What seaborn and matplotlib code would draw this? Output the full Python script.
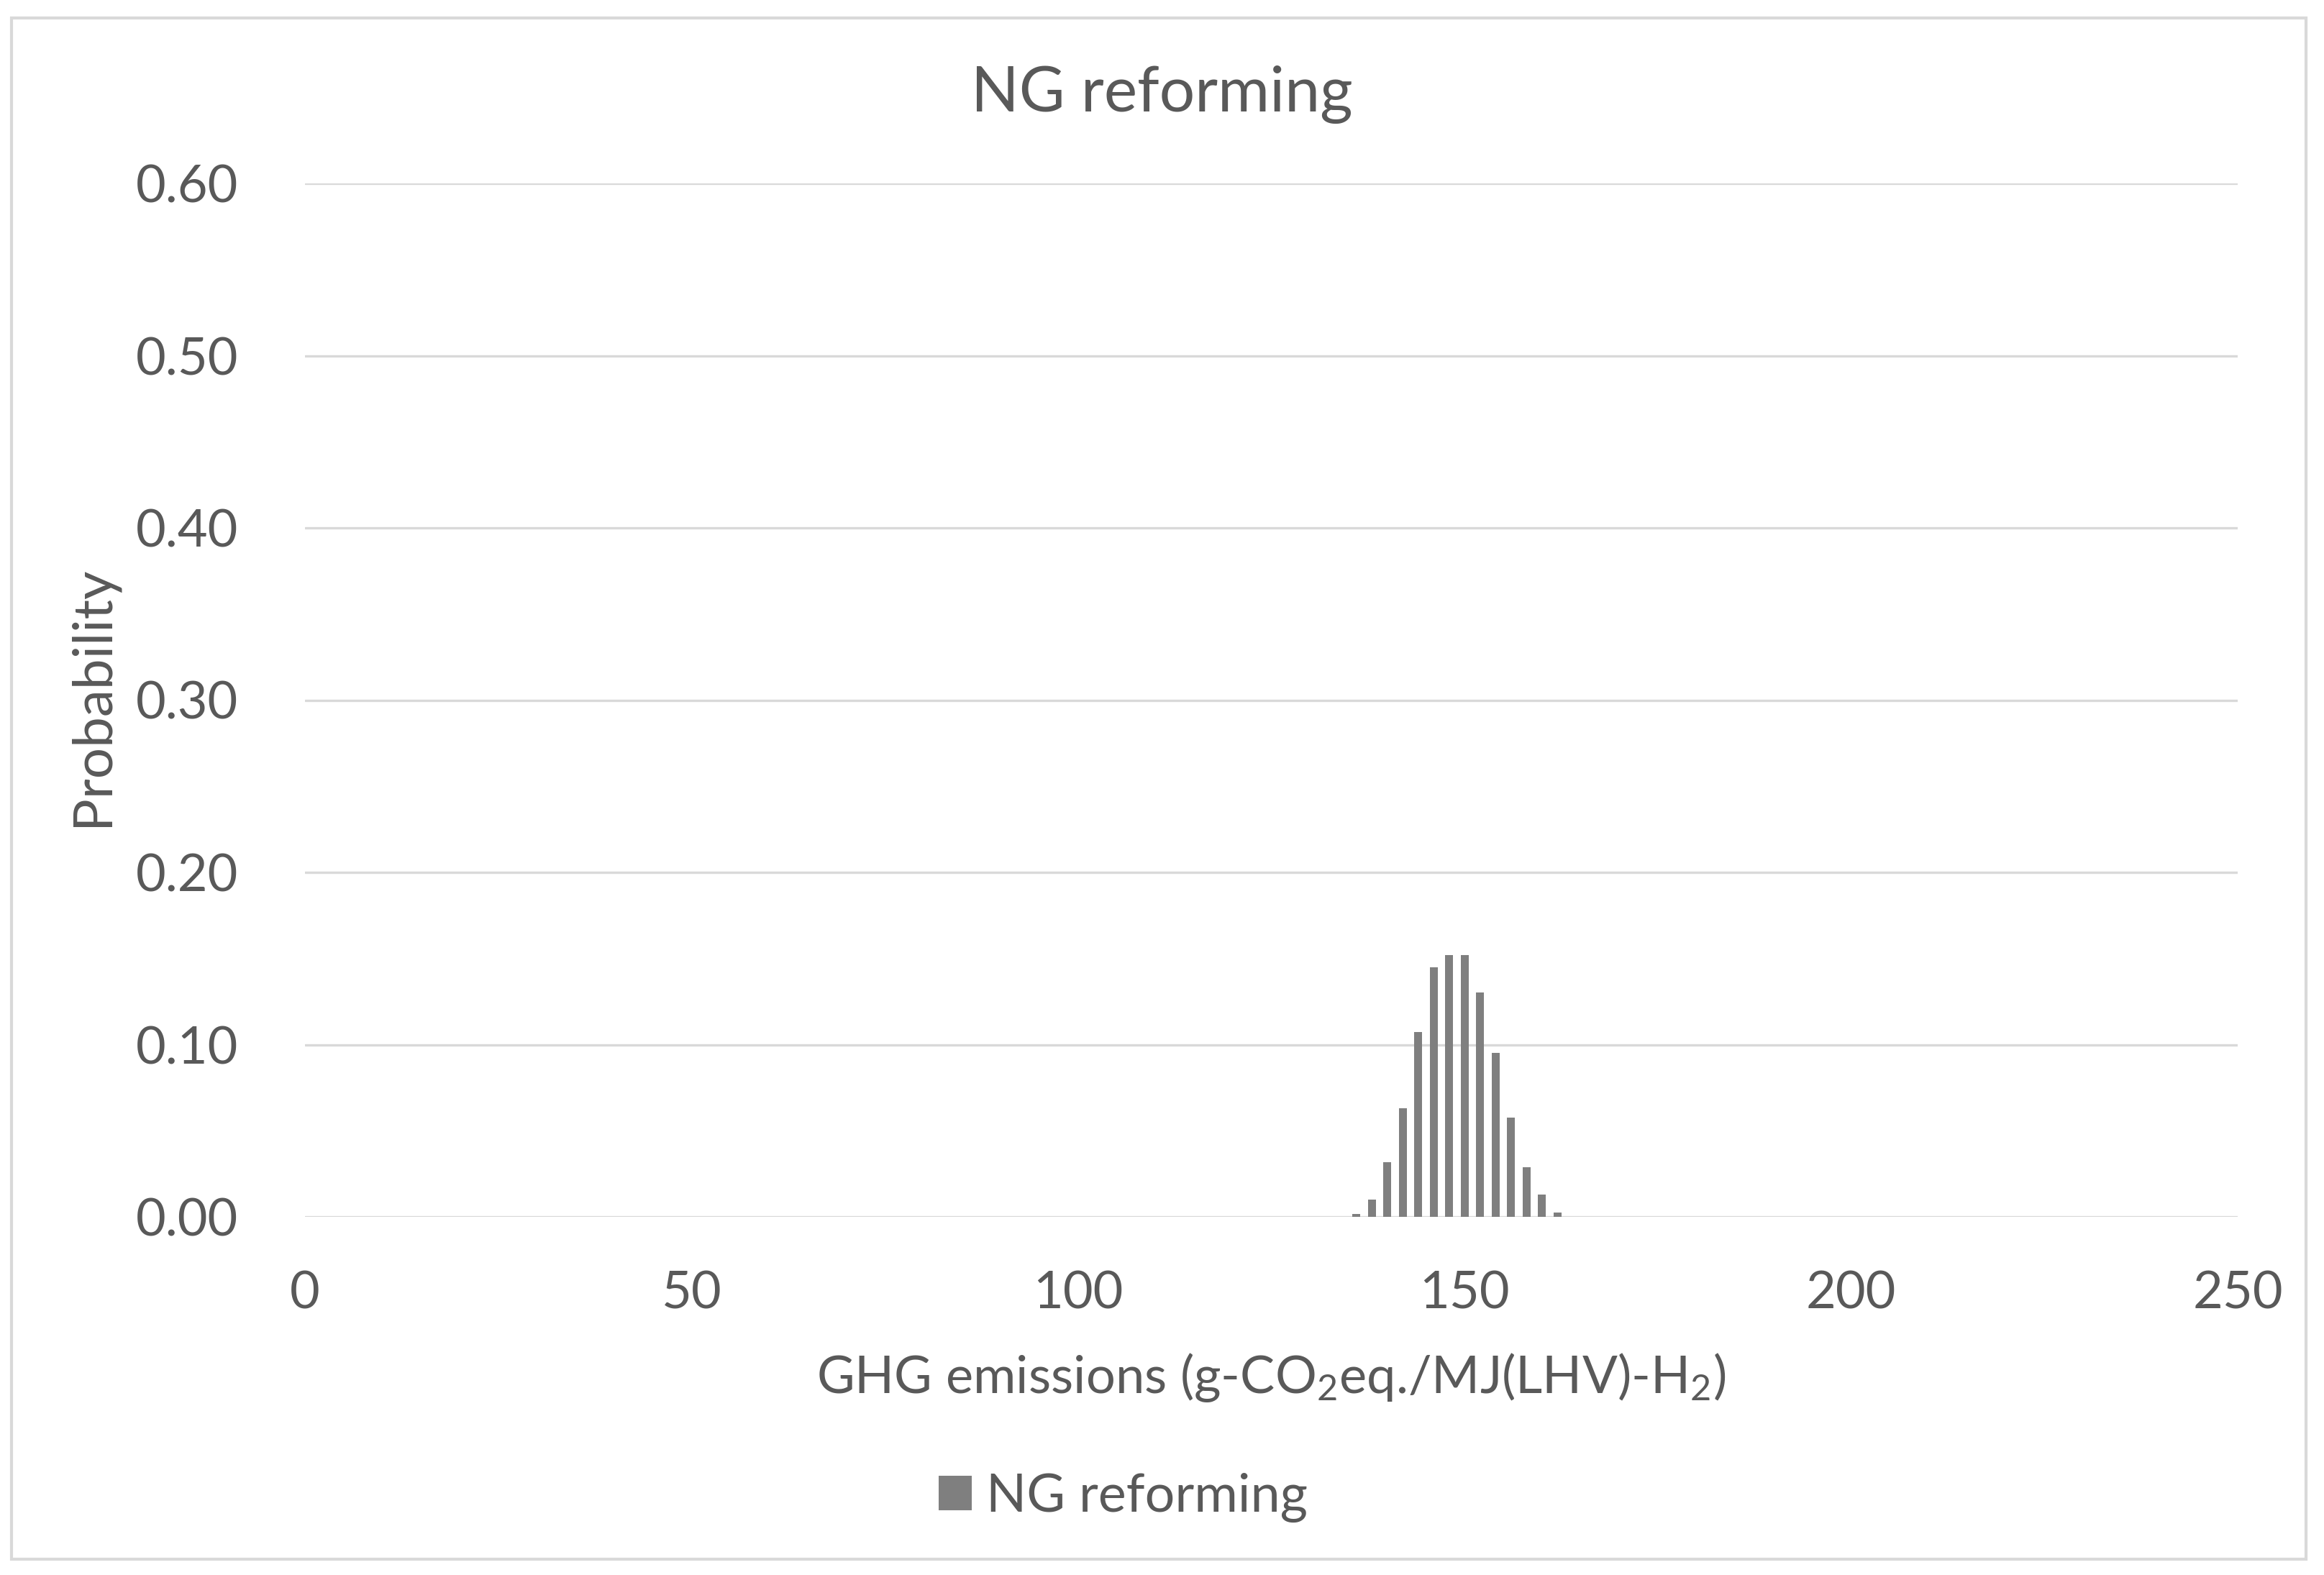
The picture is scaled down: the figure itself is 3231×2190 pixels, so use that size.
import matplotlib
matplotlib.use("Agg")
import matplotlib.pyplot as plt
import matplotlib.ticker as mticker
from matplotlib.patches import Rectangle
import seaborn as sns
import pandas as pd

# Data
emissions = [136, 138, 140, 142, 144, 146, 148, 150, 152, 154, 156, 158, 160, 162]
probability = [0.0017, 0.0100, 0.0316, 0.0632, 0.1075, 0.1447, 0.1518,
               0.1518, 0.1302, 0.0950, 0.0578, 0.0288, 0.0128, 0.0026]
series_name = "NG reforming"
y_ticks = [0.0, 0.1, 0.2, 0.3, 0.4, 0.5, 0.6]
x_ticks = [0, 50, 100, 150, 200, 250]

df = pd.DataFrame({"x": emissions, "p": probability})

sns.set_theme(style="white")
plt.rcParams["font.family"] = ["Lato", "DejaVu Sans"]
plt.rcParams["mathtext.fontset"] = "custom"
plt.rcParams["mathtext.rm"] = "Lato"
plt.rcParams["mathtext.it"] = "Lato"
plt.rcParams["mathtext.bf"] = "Lato"

TXT = "#595959"
GRID = "#D9D9D9"
BAR = "#7F7F7F"

W, H = 3231, 2190
fig = plt.figure(figsize=(W / 100, H / 100), dpi=100)
ax = fig.add_axes([424 / W, 1 - 1692 / H, (3111 - 424) / W, (1692 - 255) / H])

sns.barplot(data=df, x="x", y="p", native_scale=True, width=0.5,
            color=BAR, saturation=1, linewidth=0, ax=ax, label=series_name)

ax.set_xlim(0, 250)
ax.set_ylim(0, 0.6)
ax.set_xticks(x_ticks)
ax.set_yticks(y_ticks)
ax.yaxis.set_major_formatter(mticker.FormatStrFormatter("%.2f"))
ax.xaxis.set_major_formatter(mticker.FormatStrFormatter("%d"))
ax.tick_params(axis="both", length=0, labelsize=52, colors=TXT)
ax.tick_params(axis="y", pad=67)
ax.tick_params(axis="x", pad=54)
ax.grid(axis="y", color=GRID, linewidth=2.4)
ax.set_axisbelow(True)
for s in ax.spines.values():
    s.set_visible(False)
ax.set_xlabel("")
ax.set_ylabel("")
if ax.get_legend():
    ax.get_legend().remove()

fig.text(0.5, 1 - 155 / H, "NG reforming", ha="center", va="baseline",
         fontsize=63, color=TXT)
fig.text((424 + 3111) / 2 / W, 1 - 1937 / H,
         r"GHG emissions (g-CO$_2$eq./MJ(LHV)-H$_2$)",
         ha="center", va="baseline", fontsize=52, color=TXT)
fig.text(128 / W, 0.558, "Probability", rotation=90, ha="center", va="center",
         fontsize=55, color=TXT)

handles, labels = ax.get_legend_handles_labels()
fig.legend(handles[:1], labels[:1], loc="center", bbox_to_anchor=(0.4834, 0.049),
           frameon=False, fontsize=53, labelcolor=TXT, handlelength=0.62,
           handleheight=0.62, handletextpad=0.28)

fig.patches.append(Rectangle((16 / W, 1 - 2168 / H), (3206 - 16) / W, (2168 - 25) / H,
                             transform=fig.transFigure, fill=False,
                             edgecolor=GRID, linewidth=3))

fig.savefig("out.png", dpi=100, facecolor="white")
